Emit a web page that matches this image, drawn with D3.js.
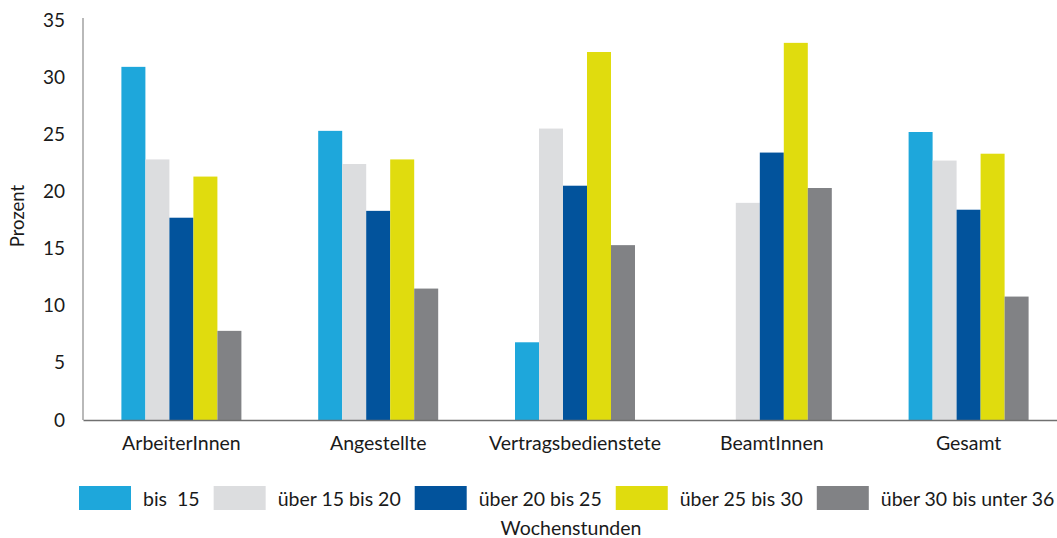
<!DOCTYPE html>
<html><head><meta charset="utf-8">
<script src="https://cdn.jsdelivr.net/npm/d3@7"></script>
<style>
html,body{margin:0;padding:0;background:#fff;}
svg text{font-family:Lato, "Open Sans", sans-serif;fill:#1a1a1a;}
</style></head>
<body><svg id="c" width="1057" height="538"></svg>
<script>
const categories = ["ArbeiterInnen","Angestellte","Vertragsbedienstete","BeamtInnen","Gesamt"];
const seriesNames = ["bis  15","über 15 bis 20","über 20 bis 25","über 25 bis 30","über 30 bis unter 36"];
const bis15      = [30.9, 25.3, 6.8, 0, 25.2];
const ueber15_20 = [22.8, 22.4, 25.5, 19.0, 22.7];
const ueber20_25 = [17.7, 18.3, 20.5, 23.4, 18.4];
const ueber25_30 = [21.3, 22.8, 32.2, 33.0, 23.3];
const ueber30_36 = [7.8, 11.5, 15.3, 20.3, 10.8];
const yTicks = [0,5,10,15,20,25,30,35];
const colors = ["#1ea7db","#dcdddf","#02539c","#e0dc0e","#818285"];
const seriesValues = [bis15, ueber15_20, ueber20_25, ueber25_30, ueber30_36];

const svg = d3.select("#c");
const x0 = d3.scaleBand().domain(categories).range([83, 1067]).paddingInner(0).paddingOuter(0);
const groupW = 120;
const x1 = d3.scaleBand().domain(seriesNames).range([0, groupW]).padding(0);
const y = d3.scaleLinear().domain([0,35]).range([420,20]);

// bars
const g = svg.append("g");
categories.forEach((c,ci)=>{
  const gx = x0(c) + (x0.bandwidth()-groupW)/2;
  seriesNames.forEach((s,si)=>{
    const v = seriesValues[si][ci];
    if (v<=0) return;
    g.append("rect").attr("x", gx + x1(s)).attr("width", x1.bandwidth())
      .attr("y", y(v)).attr("height", y(0)-y(v)).attr("fill", colors[si]);
  });
});

// y axis
const ya = svg.append("g").attr("transform","translate(83,0)")
  .call(d3.axisLeft(y).tickValues(yTicks).tickSize(0).tickPadding(18));
ya.select(".domain").attr("stroke","#8a8a8a").attr("stroke-width",1.2).attr("d","M0,18V420");
ya.selectAll("text").attr("font-size",19).attr("font-family","Lato").attr("fill","#1a1a1a");

// x axis
const xa = svg.append("g").attr("transform","translate(0,420)")
  .call(d3.axisBottom(x0).tickSize(0).tickPadding(16));
xa.select(".domain").attr("stroke","#707070").attr("stroke-width",1.6);
xa.selectAll("text").attr("font-size",19.5).attr("font-family","Lato").attr("fill","#1a1a1a");

// y title
svg.append("text").attr("transform","translate(24,216) rotate(-90)")
  .attr("text-anchor","middle").attr("font-size",18.5).text("Prozent");

// legend
const leg = svg.append("g");
let lx = 79;
seriesNames.forEach((s,i)=>{
  leg.append("rect").attr("x",lx).attr("y",486).attr("width",52).attr("height",24).attr("fill",colors[i]);
  const t = leg.append("text").attr("x",lx+64).attr("y",506).attr("font-size",19.5)
    .style("white-space","pre").text(s);
  lx = lx + 64 + t.node().getComputedTextLength() + 14;
});
svg.append("text").attr("x",571).attr("y",535).attr("text-anchor","middle").attr("font-size",19.5).text("Wochenstunden");
</script></body></html>
